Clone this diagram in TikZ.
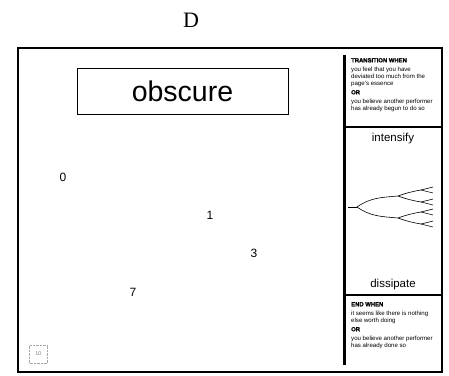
\documentclass[tikz,border=0pt]{standalone}
\usepackage{fontspec}
\setmainfont{Liberation Serif}
\setsansfont{Liberation Sans}
\newfontfamily\heavysans[FakeBold=1.2]{Liberation Sans Bold}
\usetikzlibrary{positioning}
\tikzset{
  page/.style = {draw, line width=1.2pt},
  cardbox/.style = {draw, line width=0.9pt, minimum width=211pt, minimum height=46pt,
                    font=\sffamily\fontsize{28.5}{31}\selectfont},
  numlabel/.style = {font=\sffamily\fontsize{12}{14}\selectfont},
  ruletext/.style = {font=\sffamily\fontsize{6.1}{7}\selectfont, align=left,
                     anchor=north west, inner sep=0pt},
  dynlabel/.style = {font=\sffamily\fontsize{11.5}{13}\selectfont},
  branch/.style = {line width=0.6pt},
}
\newcommand{\rulehead}[1]{{\heavysans\fontsize{5.9}{7}\selectfont #1}}
\begin{document}
\begin{tikzpicture}[x=1pt,y=-1pt]
  \useasboundingbox (0,0) rectangle (449,375);
  % page and title
  \node[font=\fontsize{22}{24}\selectfont] (title) at (191,20) {D};
  \draw[page] (18,48) rectangle (442,372);
  \node[cardbox] (card) at (182.5,91) {obscure};
  % numbers
  \node[numlabel] (n0) at (63,177) {0};
  \node[numlabel] (n1) at (210,215) {1};
  \node[numlabel] (n3) at (254,253) {3};
  \node[numlabel] (n7) at (133,292) {7};
  % page number
  \node[draw=gray!70, densely dotted, minimum size=18pt, inner sep=0pt,
        text=gray, font=\sffamily\fontsize{5.5}{6}\selectfont] (pg) at (38.5,354) {10};
  % side panel
  \draw[line width=3pt] (344.5,55) -- (344.5,365);
  \draw[line width=1.3pt] (346,127) -- (442,127);
  \draw[line width=1.3pt] (346,295) -- (442,295);
  \node[ruletext] (trans) at (351,58) {\rulehead{TRANSITION WHEN}\\[2pt]
    you feel that you have\\ deviated too much from the\\ page's essence\\[2pt]
    \rulehead{OR}\\[2pt] you believe another performer\\ has already begun to do so};
  \node[dynlabel] (up) at (393,139) {intensify};
  \node[dynlabel] (down) at (393,285) {dissipate};
  \node[ruletext] (stop) at (351,302) {\rulehead{END WHEN}\\[2pt]
    it seems like there is nothing\\ else worth doing\\[2pt]
    \rulehead{OR}\\[2pt] you believe another performer\\ has already done so};
  % tree
  \coordinate (t0) at (348,207);
  \coordinate (t1) at (357,207);
  \coordinate (ta) at (398,196);
  \coordinate (tb) at (398,218);
  \coordinate (taa) at (421,190);
  \coordinate (tab) at (421,202);
  \coordinate (tba) at (421,212);
  \coordinate (tbb) at (421,224);
  \draw[branch] (t0) -- (t1);
  \draw[branch] (t1) to[out=35,in=185] (ta);
  \draw[branch] (t1) to[out=-35,in=175] (tb);
  \foreach \p/\q in {ta/taa,tb/tba} \draw[branch] (\p) to[out=20,in=190] (\q);
  \foreach \p/\q in {ta/tab,tb/tbb} \draw[branch] (\p) to[out=-20,in=170] (\q);
  \foreach \p/\y in {taa/187,tab/199,tba/209,tbb/221} {
    \coordinate (\p u) at (433,\y);
    \coordinate (\p d) at (433,\y+6);
    \draw[branch] (\p) -- (\p u);
    \draw[branch] (\p) -- (\p d);
  }
\end{tikzpicture}
\end{document}
